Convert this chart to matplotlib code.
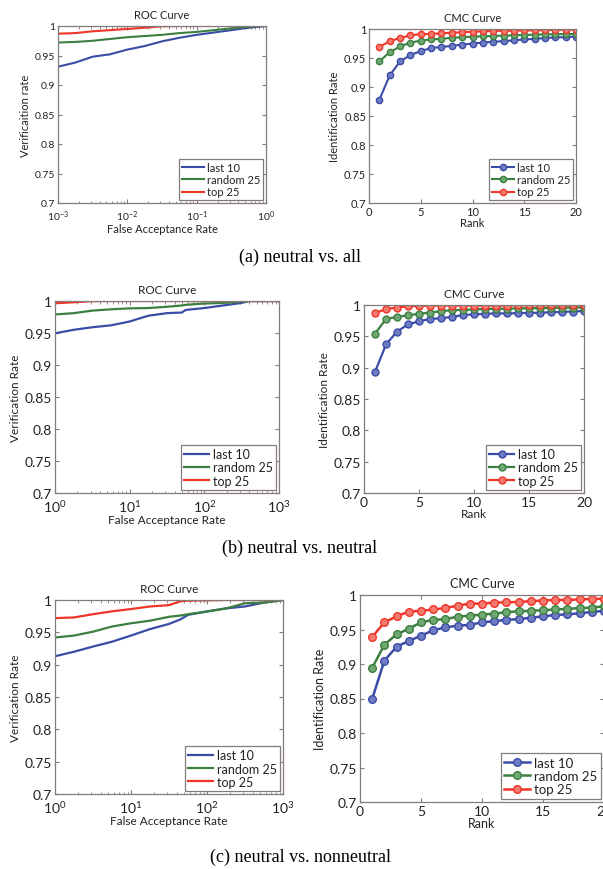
import numpy as np
import matplotlib
matplotlib.use("Agg")
import matplotlib.pyplot as plt
from matplotlib.ticker import LogLocator, NullFormatter

plt.rcParams['font.family'] = ['Lato', 'DejaVu Sans']

W, H = 603, 870

series_names = ["last 10", "random 25", "top 25"]
colors = ["#3b4ca6", "#3c8040", "#ee3528"]
face_colors = ["#6f7cc4", "#6fa872", "#f47a70"]

# ---------------- (a) neutral vs. all ----------------
roc_a_far = [1e-3, 10**-2.75, 10**-2.5, 10**-2.25, 1e-2, 10**-1.75, 10**-1.5, 10**-1.25, 1e-1, 10**-0.75, 10**-0.5, 10**-0.25, 1.0]
roc_a_last10 = [0.931, 0.938, 0.948, 0.952, 0.960, 0.966, 0.974, 0.980, 0.985, 0.989, 0.993, 0.997, 1.0]
roc_a_random25 = [0.972, 0.973, 0.975, 0.978, 0.981, 0.983, 0.985, 0.988, 0.990, 0.993, 0.996, 0.999, 1.0]
roc_a_top25 = [0.987, 0.988, 0.991, 0.993, 0.995, 0.997, 0.9995, 1.0, 1.0, 1.0, 1.0, 1.0, 1.0]

rank = list(range(1, 21))
cmc_a_last10 = [0.878, 0.920, 0.944, 0.955, 0.962, 0.967, 0.969, 0.971, 0.973, 0.975,
                0.9765, 0.978, 0.979, 0.9805, 0.982, 0.983, 0.9845, 0.9855, 0.986, 0.987]
cmc_a_random25 = [0.944, 0.960, 0.970, 0.9765, 0.980, 0.982, 0.983, 0.985, 0.9857, 0.987,
                  0.9874, 0.988, 0.9886, 0.9891, 0.9897, 0.9903, 0.9908, 0.9908, 0.9914, 0.9914]
cmc_a_top25 = [0.969, 0.979, 0.9845, 0.989, 0.991, 0.9914, 0.9925, 0.9937, 0.9943, 0.9954,
               0.996, 0.9966, 0.9971, 0.9971, 0.9977, 0.9977, 0.9983, 0.9983, 0.9989, 0.9989]

# ---------------- (b) neutral vs. neutral ----------------
roc_b_far = [1.0, 10**0.25, 10**0.5, 10**0.75, 10**1, 10**1.25, 10**1.5, 10**1.7, 10**1.75, 10**2, 10**2.25, 10**2.5, 10**2.6, 10**3]
roc_b_last10 = [0.9495, 0.955, 0.959, 0.962, 0.968, 0.977, 0.981, 0.982, 0.986, 0.989, 0.993, 0.997, 1.0, 1.0]
roc_b_random25 = [0.979, 0.981, 0.985, 0.987, 0.9885, 0.989, 0.991, 0.993, 0.994, 0.996, 0.997, 0.999, 1.0, 1.0]
roc_b_top25 = [0.9965, 0.998, 0.9998, 1.0, 1.0, 1.0, 1.0, 1.0, 1.0, 1.0, 1.0, 1.0, 1.0, 1.0]

cmc_b_last10 = [0.893, 0.937, 0.9575, 0.969, 0.974, 0.9777, 0.9788, 0.981, 0.984, 0.985,
                0.986, 0.9865, 0.9865, 0.987, 0.9875, 0.9875, 0.9886, 0.989, 0.9896, 0.9905]
cmc_b_random25 = [0.954, 0.9777, 0.981, 0.9835, 0.986, 0.988, 0.990, 0.992, 0.992, 0.993,
                  0.9936, 0.994, 0.994, 0.9947, 0.9947, 0.9952, 0.9952, 0.9958, 0.9958, 0.996]
cmc_b_top25 = [0.987, 0.9936, 0.9958, 0.998, 0.9984, 0.999, 0.999, 0.999, 0.999, 0.999,
               0.999, 0.999, 0.999, 0.9995, 0.9995, 0.9995, 0.9995, 0.9995, 0.9995, 0.9995]

# ---------------- (c) neutral vs. nonneutral ----------------
roc_c_far = [10**e for e in [0, 0.25, 0.5, 0.75, 1.0, 1.25, 1.5, 1.65, 1.75, 2.0, 2.25, 2.5, 2.75, 3.0]]
roc_c_last10 = [0.913, 0.920, 0.928, 0.9355, 0.945, 0.955, 0.963, 0.970, 0.977, 0.9825, 0.987, 0.990, 0.996, 1.0]
roc_c_random25 = [0.942, 0.945, 0.951, 0.959, 0.964, 0.968, 0.974, 0.976, 0.978, 0.982, 0.987, 0.995, 0.996, 1.0]
roc_c_top25 = [0.972, 0.973, 0.978, 0.9825, 0.986, 0.990, 0.992, 0.998, 0.999, 0.9995, 1.0, 1.0, 1.0, 1.0]

cmc_c_last10 = [0.8495, 0.905, 0.925, 0.9335, 0.941, 0.949, 0.953, 0.9556, 0.9566, 0.9604,
                0.962, 0.964, 0.965, 0.967, 0.969, 0.971, 0.972, 0.9735, 0.9754, 0.977]
cmc_c_random25 = [0.8944, 0.928, 0.943, 0.951, 0.9604, 0.964, 0.965, 0.9686, 0.970, 0.9715,
                  0.973, 0.975, 0.9764, 0.977, 0.978, 0.979, 0.980, 0.981, 0.9817, 0.9836]
cmc_c_top25 = [0.939, 0.9604, 0.969, 0.976, 0.977, 0.979, 0.981, 0.9846, 0.9875, 0.9875,
               0.989, 0.9894, 0.990, 0.991, 0.992, 0.9928, 0.9928, 0.9937, 0.9941, 0.9947]

yticks = [0.7, 0.75, 0.8, 0.85, 0.9, 0.95, 1.0]
yticklabels = ["0.7", "0.75", "0.8", "0.85", "0.9", "0.95", "1"]
rank_ticks = [0, 5, 10, 15, 20]

SPINE = "#857b7b"

fig = plt.figure(figsize=(W / 100, H / 100), dpi=100)
fig.patch.set_facecolor("white")


def make_ax(L, R, T, B):
    return fig.add_axes([L / W, 1 - B / H, (R - L) / W, (B - T) / H])


def style(ax, fs):
    for s in ax.spines.values():
        s.set_color(SPINE)
        s.set_linewidth(0.9)
    ax.tick_params(which="both", direction="in", top=True, right=True,
                   colors=SPINE, labelcolor="#222222", labelsize=fs)
    ax.tick_params(axis="y", pad=2)
    ax.tick_params(axis="x", pad=4)
    ax.tick_params(which="major", length=3)
    ax.tick_params(which="minor", length=1.8)
    ax.set_ylim(0.7, 1.0)
    ax.set_yticks(yticks)
    ax.set_yticklabels(yticklabels)


def add_legend(ax, fs):
    leg = ax.legend(loc="lower right", fontsize=fs, handlelength=2.0, handletextpad=0.3,
                    borderpad=0.25, labelspacing=0.1, fancybox=False, framealpha=1,
                    edgecolor=SPINE, borderaxespad=0.25)
    leg.get_frame().set_linewidth(0.9)
    for t in leg.get_texts():
        t.set_color("#222222")


def roc_panel(rect, far, ys, xlim, ylabel, fs, lfs, legfs, lw):
    ax = make_ax(*rect)
    for y, c, n in zip(ys, colors, series_names):
        ax.plot(far, y, color=c, lw=lw, label=n)
    ax.set_xscale("log")
    ax.set_xlim(*xlim)
    ax.xaxis.set_major_locator(LogLocator(base=10, numticks=10))
    ax.xaxis.set_minor_locator(LogLocator(base=10, subs=np.arange(2, 10), numticks=10))
    ax.xaxis.set_minor_formatter(NullFormatter())
    style(ax, fs)
    ax.set_title("ROC Curve", fontsize=lfs, pad=6, color="#222222")
    ax.set_xlabel("False Acceptance Rate", fontsize=lfs, labelpad=0, color="#222222")
    ax.set_ylabel(ylabel, fontsize=lfs, labelpad=3, color="#222222")
    add_legend(ax, legfs)
    return ax


def cmc_panel(rect, ys, fs, lfs, legfs, lw, ms):
    ax = make_ax(*rect)
    for y, c, fc, n in zip(ys, colors, face_colors, series_names):
        ax.plot(rank, y, color=c, lw=lw, marker="o", ms=ms, mfc=fc, mec=c, mew=1.0, label=n)
    ax.set_xlim(0, 20)
    ax.set_xticks(rank_ticks)
    style(ax, fs)
    ax.tick_params(axis="x", pad=2)
    ax.set_title("CMC Curve", fontsize=lfs, pad=6, color="#222222")
    ax.set_xlabel("Rank", fontsize=lfs, labelpad=0, color="#222222")
    ax.set_ylabel("Identification Rate", fontsize=lfs, labelpad=3, color="#222222")
    add_legend(ax, legfs)
    return ax


# (a)
roc_panel((58, 266, 27, 204), roc_a_far, [roc_a_last10, roc_a_random25, roc_a_top25],
          (1e-3, 1), "Verificaition rate", 7.5, 8, 8, 1.5)
cmc_panel((369, 576, 30, 204), [cmc_a_last10, cmc_a_random25, cmc_a_top25], 8, 8, 8, 1.5, 4.5)
fig.text(300 / W, 1 - 257 / H, "(a) neutral vs. all", ha="center", va="center",
         fontsize=13, family="Liberation Serif")

# (b)
roc_panel((55, 279, 302, 494), roc_b_far, [roc_b_last10, roc_b_random25, roc_b_top25],
          (1, 1000), "Verification Rate", 10, 8.5, 9, 1.6)
cmc_panel((364, 584, 306, 494), [cmc_b_last10, cmc_b_random25, cmc_b_top25], 10, 8.5, 9, 1.6, 5)
fig.text(300 / W, 1 - 548 / H, "(b) neutral vs. neutral", ha="center", va="center",
         fontsize=13, family="Liberation Serif")

# (c)
roc_panel((55, 283, 601, 795), roc_c_far, [roc_c_last10, roc_c_random25, roc_c_top25],
          (1, 1000), "Verification Rate", 10, 8.5, 9, 1.6)
cmc_panel((360, 604, 596, 803), [cmc_c_last10, cmc_c_random25, cmc_c_top25], 10, 9, 9.5, 1.8, 5.5)
fig.text(300 / W, 1 - 857 / H, "(c) neutral vs. nonneutral", ha="center", va="center",
         fontsize=13, family="Liberation Serif")

fig.savefig("out.png", dpi=100, facecolor="white")
